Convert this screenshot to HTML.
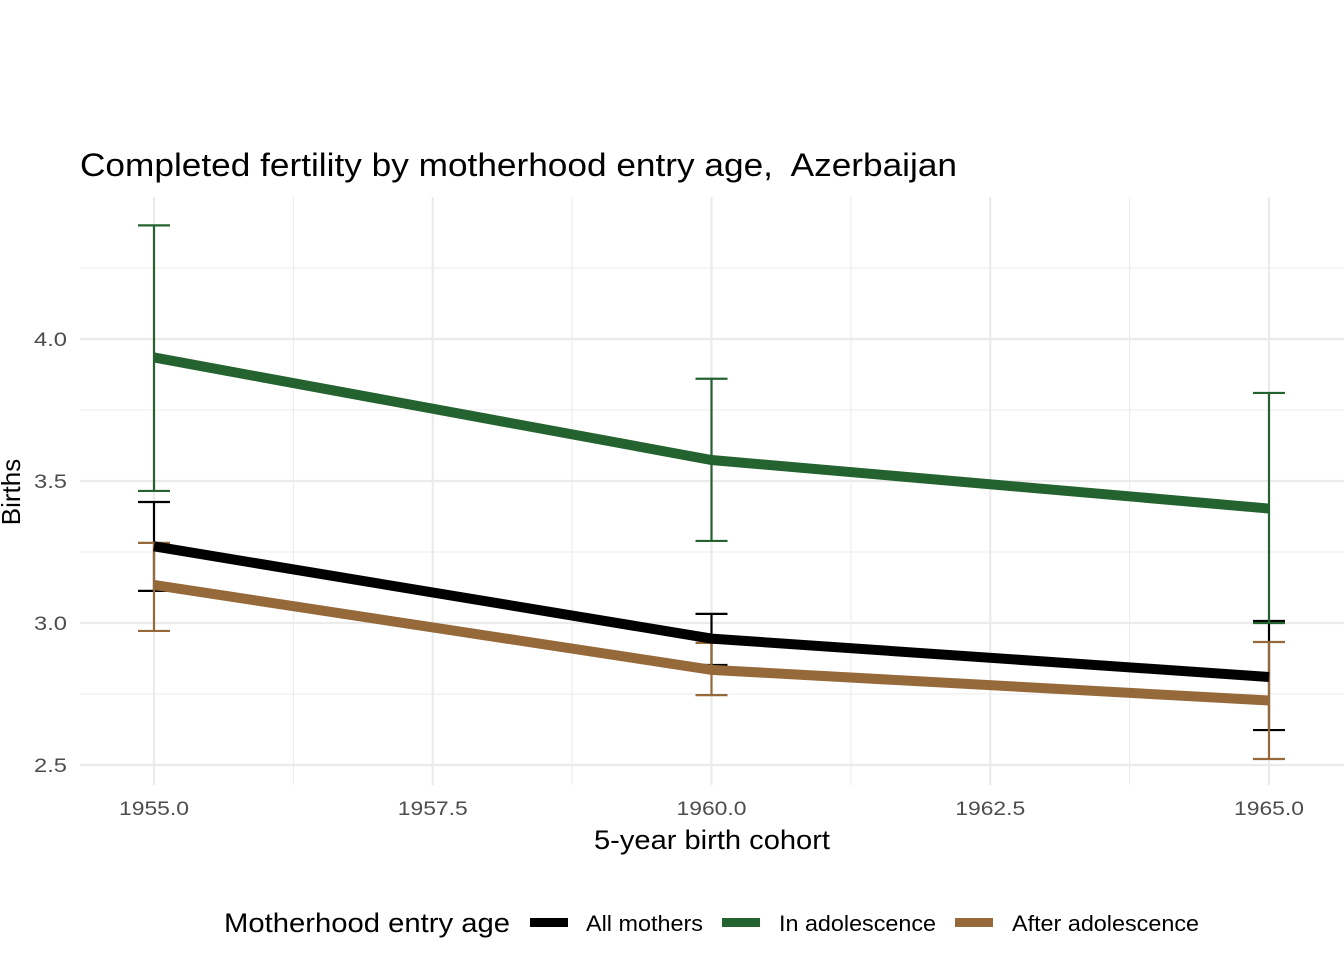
<!DOCTYPE html>
<html><head><meta charset="utf-8"><style>
body{margin:0;background:#fff;}
svg text{font-family:"Liberation Sans",Arial,sans-serif;}
</style></head><body>
<svg id="chart" width="1344" height="960" xmlns="http://www.w3.org/2000/svg">
<rect width="1344" height="960" fill="#fff"/>
<text x="80" y="176" font-size="32" fill="#000" textLength="877" lengthAdjust="spacingAndGlyphs">Completed fertility by motherhood entry age,&#160; Azerbaijan</text>
<g id="grid"></g>
<g id="marks"></g>
<g id="axes"></g>
<text x="594" y="849" font-size="27" textLength="236" lengthAdjust="spacingAndGlyphs">5-year birth cohort</text>
<text transform="translate(20,492) rotate(-90)" font-size="26" text-anchor="middle">Births</text>
<g>
<text x="224" y="932" font-size="27" textLength="286" lengthAdjust="spacingAndGlyphs">Motherhood entry age</text>
<rect x="530" y="918" width="38" height="9" fill="#000"/>
<text x="586" y="931" font-size="22" textLength="117" lengthAdjust="spacingAndGlyphs">All mothers</text>
<rect x="722" y="918" width="38" height="9" fill="#24622f"/>
<text x="779" y="931" font-size="22" textLength="157" lengthAdjust="spacingAndGlyphs">In adolescence</text>
<rect x="955" y="918" width="38" height="9" fill="#95693a"/>
<text x="1012" y="931" font-size="22" textLength="187" lengthAdjust="spacingAndGlyphs">After adolescence</text>
</g>
</svg>
<script>
const cohorts=[1955,1960,1965];
const names=["All mothers","In adolescence","After adolescence"];
const allMean=[3.27,2.945,2.81];
const allLo=[3.113,2.852,2.623];
const allHi=[3.426,3.032,3.007];
const adoMean=[3.935,3.574,3.403];
const adoLo=[3.465,3.289,3.0];
const adoHi=[4.40,3.86,3.81];
const aftMean=[3.134,2.835,2.727];
const aftLo=[2.972,2.746,2.521];
const aftHi=[3.282,2.93,2.933];
const xTicks=[1955,1957.5,1960,1962.5,1965];
const yTicks=[2.5,3.0,3.5,4.0];

const NS="http://www.w3.org/2000/svg";
const X=v=>154+(v-1955)*111.5;
const Y=v=>765-(v-2.5)*284;
const L=80,R=1344,T=197,B=785;
function mk(tag,attrs,parent){const e=document.createElementNS(NS,tag);for(const k in attrs)e.setAttribute(k,attrs[k]);parent.appendChild(e);return e;}
const grid=document.getElementById('grid'),marks=document.getElementById('marks'),axes=document.getElementById('axes');
for(let v=1955;v<=1966;v+=1.25){const major=xTicks.includes(v);
 const g=mk('line',{x1:X(v),x2:X(v),y1:T,y2:B,stroke:'#ebebeb','stroke-width':major?2.2:1.1},grid);
 
 }
for(let v=2.5;v<=4.25;v+=0.25){const major=yTicks.includes(v);
 const g=mk('line',{x1:L,x2:R,y1:Y(v),y2:Y(v),stroke:'#ebebeb','stroke-width':major?2.2:1.1},grid);
 
 }
xTicks.forEach(v=>{const t=mk('text',{x:X(v),y:815,'font-size':19,'text-anchor':'middle',fill:'#4d4d4d',textLength:70,lengthAdjust:'spacingAndGlyphs'},axes);t.textContent=v.toFixed(1);
 
 });
yTicks.forEach(v=>{const t=mk('text',{x:67,y:Y(v)+7,'font-size':19,'text-anchor':'end',fill:'#4d4d4d',textLength:33,lengthAdjust:'spacingAndGlyphs'},axes);t.textContent=v.toFixed(1);
 
 });
const series=[[allMean,allLo,allHi,'#000','all'],[adoMean,adoLo,adoHi,'#24622f','adolescence'],[aftMean,aftLo,aftHi,'#95693a','after']];
series.forEach(([m,lo,hi,c,id])=>{
 cohorts.forEach((x,i)=>{
  const g=mk('g',{stroke:c,'stroke-width':2.2,fill:'none'},marks);
  
  
  mk('line',{x1:X(x),x2:X(x),y1:Y(lo[i]),y2:Y(hi[i])},g);
  mk('line',{x1:X(x)-16,x2:X(x)+16,y1:Y(lo[i]),y2:Y(lo[i])},g);
  mk('line',{x1:X(x)-16,x2:X(x)+16,y1:Y(hi[i]),y2:Y(hi[i])},g);
 });
});
series.forEach(([m,lo,hi,c,id])=>{
 const p=mk('polyline',{points:cohorts.map((x,i)=>X(x)+','+Y(m[i])).join(' '),stroke:c,'stroke-width':10,fill:'none'},marks);
 
 
});
</script>
</body></html>
